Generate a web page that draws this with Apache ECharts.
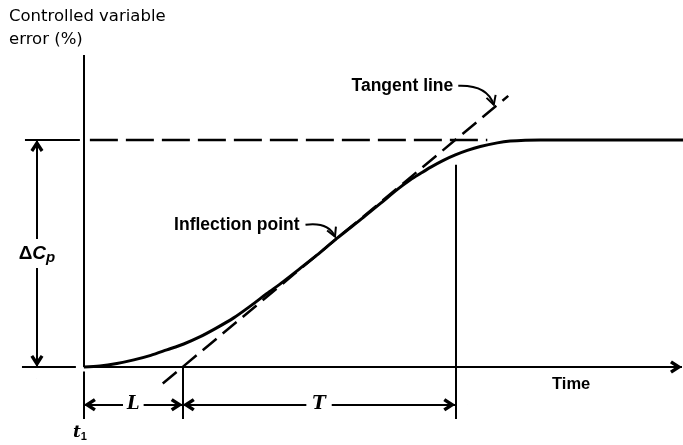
<!DOCTYPE html>
<html>
<head>
<meta charset="utf-8">
<script src="https://cdn.jsdelivr.net/npm/echarts@6/dist/echarts.min.js"></script>
<style>
  html, body { margin: 0; padding: 0; background: #fff; }
  #chart { width: 683px; height: 445px; }
</style>
</head>
<body>
<div id="chart"></div>
<script>
// Process reaction curve: open-loop step response of the controlled variable error.
const timeValues  = [0, 1.6, 3.3, 5.0, 6.7, 8.3, 10.0, 11.6, 13.3, 15.0, 16.7, 18.3, 20.0, 21.6, 23.3,
                     25.3, 28.0, 29.7, 31.4, 32.7, 33.7, 34.7, 36.0, 37.2, 38.4, 39.7, 41.4, 42.7, 44.2, 45.7, 60];
const errorValues = [0, 0.004, 0.015, 0.031, 0.051, 0.075, 0.101, 0.132, 0.172, 0.216, 0.269, 0.322, 0.377, 0.432, 0.491,
                     0.565, 0.659, 0.720, 0.782, 0.824, 0.852, 0.879, 0.910, 0.934, 0.954, 0.971, 0.987, 0.995, 0.999, 1.0, 1.0];

// Tangent drawn through the inflection point
const tangentTimes  = [7.9, 42.5];
const tangentValues = [-0.073, 1.194];

const deadTime = 9.9;       // L
const timeConstant = 27.3;  // T
const finalValue = 1;       // ΔCp level
const timeEnd = 60;
const errorTop = 1.374;
const guideTimes = [0.6, 40.4];          // dashed steady-state guide
const inflectionPoint = [25.3, 0.565];
const tangentPointer = [41.2, 1.146];

// Annotation geometry (in data units)
const dimLevel = -0.167;
const markerBottom = -0.23;
const tMarkerTop = 0.89;
const deltaX = -4.7;

// Open chevron arrowhead pointing up, tip at the centre of its box
// (the tiny second sub-path only extends the box so the tip lands on the line end)
const ARROW = 'path://M5,0 L10,8.4 L7.9,10 L5,5.3 L2.1,10 L0,8.4 Z M4.95,-10 L5.05,-10 L5,-9.95 Z';
const ARROW_SIZE = [13, 24];
const FONT = '"Liberation Sans", Arial, Helvetica, sans-serif';

const curveData = timeValues.map((t, i) => [t, errorValues[i]]);
const tangentData = tangentTimes.map((t, i) => [t, tangentValues[i]]);
const guideData = guideTimes.map(t => [t, finalValue]);

function end(coord, arrow) {
  return arrow ? { coord: coord, symbol: ARROW, symbolSize: ARROW_SIZE } : { coord: coord, symbol: 'none' };
}
function seg(a, b, arrowStart, arrowEnd) {
  return [end(a, arrowStart), end(b, arrowEnd)];
}

const chart = echarts.init(document.getElementById('chart'), null, { renderer: 'canvas' });

const hiddenAxis = {
  type: 'value',
  axisLine: { show: false }, axisTick: { show: false },
  axisLabel: { show: false }, splitLine: { show: false }
};

const option = {
  animation: false,
  backgroundColor: '#fff',
  grid: { left: 0, right: 0, top: 55, bottom: 0 },
  xAxis: Object.assign({ min: -8.4, max: timeEnd }, hiddenAxis),
  yAxis: Object.assign({ min: -0.344, max: errorTop }, hiddenAxis),
  series: [
    {
      name: 'response', type: 'line', data: curveData,
      smooth: 0.3,
      showSymbol: false, clip: false, z: 3,
      lineStyle: { color: '#000', width: 3 }
    },
    {
      name: 'tangent', type: 'line', data: tangentData,
      showSymbol: false, clip: false,
      lineStyle: { color: '#000', width: 2.5, type: [18, 8] }
    },
    {
      name: 'guide', type: 'line', data: guideData,
      showSymbol: false, clip: false,
      lineStyle: { color: '#000', width: 2.5, type: [28, 8] },
      markLine: {
        silent: true, symbolSize: ARROW_SIZE,
        lineStyle: { color: '#000', width: 2, type: 'solid' },
        label: { show: false },
        data: [
          // axes
          seg([0, 0], [timeEnd - 0.1, 0], false, true),
          seg([0, 0], [0, errorTop]),
          // ΔCp dimension
          seg([-5.9, finalValue], [-0.4, finalValue]),
          seg([-6.2, 0], [-0.8, 0]),
          seg([deltaX, 0], [deltaX, finalValue], true, true),
          // time markers
          seg([0, -0.02], [0, markerBottom]),
          seg([deadTime, 0], [deadTime, markerBottom]),
          seg([deadTime + timeConstant, tMarkerTop], [deadTime + timeConstant, markerBottom]),
          // L and T dimensions
          seg([0, dimLevel], [deadTime, dimLevel], true, true),
          seg([deadTime, dimLevel], [deadTime + timeConstant, dimLevel], true, true)
        ]
      },
      markPoint: {
        silent: true, symbol: 'rect', symbolSize: 1,
        itemStyle: { color: 'rgba(0,0,0,0)' },
        label: {
          show: true, position: 'inside', color: '#000', backgroundColor: '#fff',
          fontFamily: FONT, padding: [0, 3],
          rich: {
            d: { fontSize: 19, fontWeight: 'bold', fontFamily: FONT, backgroundColor: '#fff' },
            c: { fontSize: 19, fontWeight: 'bold', fontStyle: 'italic', fontFamily: FONT, backgroundColor: '#fff' },
            p: { fontSize: 15, fontWeight: 'bold', fontStyle: 'italic', fontFamily: FONT, padding: [8, 0, 0, 0], backgroundColor: '#fff' },
            i: { fontSize: 18, fontWeight: 'bold', fontStyle: 'italic', fontFamily: '"DejaVu Serif", serif' },
            t: { fontSize: 17, fontWeight: 'bold', fontStyle: 'italic', fontFamily: '"DejaVu Serif", serif' },
            s: { fontSize: 11, fontWeight: 'bold', fontFamily: FONT, padding: [8, 0, 0, 0] }
          }
        },
        data: [
          { coord: [deltaX, finalValue / 2], label: { formatter: '{d|Δ}{c|C}{p|p}', padding: [3, 1] } },
          { coord: [deadTime / 2, dimLevel], label: { formatter: '{i|L}', padding: [0, 4] } },
          { coord: [deadTime + timeConstant / 2, dimLevel], label: { formatter: '{i|T}', padding: [0, 6] } },
          { coord: [-0.4, -0.29], label: { formatter: '{t|t}{s|1}', backgroundColor: 'transparent' } }
        ]
      }
    }
  ]
};

chart.setOption(option);

// Text labels and curved pointer arrows, placed from data coordinates
function pointer(tip, labelDx, labelDy, text, tailDx, tailDy, ctrlDx, ctrlDy) {
  const p = chart.convertToPixel({ gridIndex: 0 }, tip);
  const endPt = [p[0] - 1.5, p[1] - 2];
  const tail = [p[0] + tailDx, p[1] + tailDy];
  const ctrl = [p[0] + ctrlDx, p[1] + ctrlDy];
  const ang = Math.atan2(endPt[1] - ctrl[1], endPt[0] - ctrl[0]);
  const len = 10, spread = 0.5;
  const w1 = [endPt[0] - len * Math.cos(ang - spread), endPt[1] - len * Math.sin(ang - spread)];
  const w2 = [endPt[0] - len * Math.cos(ang + spread), endPt[1] - len * Math.sin(ang + spread)];
  return [
    {
      type: 'text', x: p[0] + labelDx, y: p[1] + labelDy,
      style: { text: text, fill: '#000', font: 'bold 17.5px ' + FONT, textAlign: 'right', textVerticalAlign: 'middle' }
    },
    {
      type: 'bezierCurve',
      shape: { x1: tail[0], y1: tail[1], x2: endPt[0], y2: endPt[1], cpx1: ctrl[0], cpy1: ctrl[1] },
      style: { stroke: '#000', lineWidth: 2, fill: null }
    },
    {
      type: 'polyline',
      shape: { points: [w1, endPt, w2] },
      style: { stroke: '#000', lineWidth: 2, fill: null }
    }
  ];
}

const timeAnchor = chart.convertToPixel({ gridIndex: 0 }, [48.8, 0]);

chart.setOption({
  graphic: [
    {
      type: 'text', left: 9, top: 5,
      style: { text: 'Controlled variable\nerror (%)', fill: '#000', font: '16.5px "DejaVu Sans", sans-serif', lineHeight: 23 }
    },
    {
      type: 'text', x: timeAnchor[0], y: timeAnchor[1] + 18,
      style: { text: 'Time', fill: '#000', font: 'bold 16.5px ' + FONT, textAlign: 'center', textVerticalAlign: 'middle' }
    },
    ...pointer(inflectionPoint, -37, -13, 'Inflection point', -31, -14, -8, -17),
    ...pointer(tangentPointer, -42, -21, 'Tangent line', -37, -21, -8, -22)
  ]
});
</script>
</body>
</html>
